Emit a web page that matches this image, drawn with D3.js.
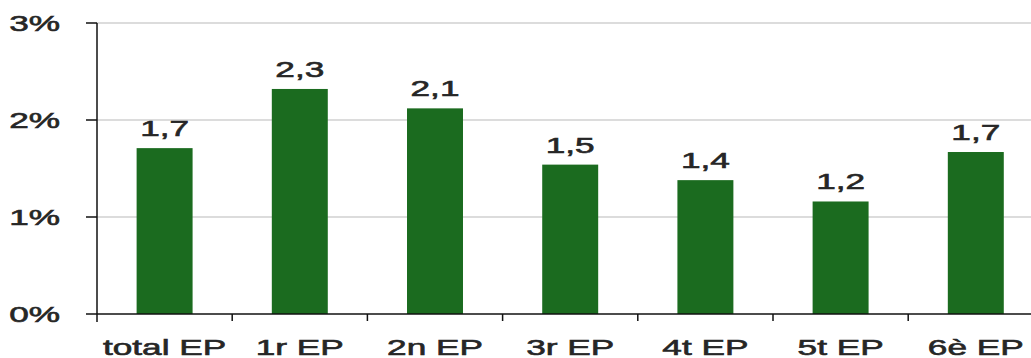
<!DOCTYPE html>
<html lang="ca">
<head>
    <meta charset="UTF-8">
    <title>EP</title>
    <script type="text/javascript" src="https://cdn.jsdelivr.net/npm/d3@7"></script>
    <style>
        body { margin: 0; background: #fff; }
        text { font-family: "Liberation Sans", Arial, sans-serif; fill: #262626; stroke: #262626; stroke-width: 0.6px; }
    </style>
</head>
<body>
<script type="text/javascript">
    let width = 1031, height = 358;

    // dades
    let categories = ['total EP', '1r EP', '2n EP', '3r EP', '4t EP', '5t EP', '6è EP'];
    let values = [1.71, 2.32, 2.12, 1.54, 1.38, 1.16, 1.67];
    let valueLabels = ['1,7', '2,3', '2,1', '1,5', '1,4', '1,2', '1,7'];
    let yTicks = [0, 1, 2, 3];
    let yTickLabels = ['0%', '1%', '2%', '3%'];

    let plotLeft = 97, plotTop = 23, plotBottom = 314;
    let sx = 1.6; // el text surt estirat en horitzontal

    let svg = d3.select('body').append('svg')
        .attr('width', width)
        .attr('height', height);

    let x = d3.scaleBand()
        .domain(categories)
        .range([plotLeft, plotLeft + 7 * 135.2])
        .paddingInner(0.586)
        .paddingOuter(0.293);

    let y = d3.scaleLinear()
        .domain([0, 3])
        .range([plotBottom, plotTop]);

    // línies de graella
    svg.append('g')
        .selectAll('line')
        .data(yTicks.filter(d => d > 0))
        .enter()
        .append('line')
        .attr('x1', plotLeft)
        .attr('x2', width)
        .attr('y1', d => y(d))
        .attr('y2', d => y(d))
        .attr('stroke', '#d0d0d0')
        .attr('stroke-width', 1.5);

    // barres
    svg.append('g')
        .selectAll('rect')
        .data(values)
        .enter()
        .append('rect')
        .attr('x', (d, i) => x(categories[i]))
        .attr('y', d => y(d))
        .attr('width', x.bandwidth())
        .attr('height', d => y(0) - y(d))
        .attr('fill', '#1b6b1f');

    // etiquetes de valor
    svg.append('g')
        .selectAll('text')
        .data(values)
        .enter()
        .append('text')
        .attr('transform', (d, i) => 'translate(' + (x(categories[i]) + x.bandwidth() / 2) + ',' + (y(d) - 12) + ') scale(' + sx + ',1)')
        .attr('text-anchor', 'middle')
        .style('font-size', '22px')
        .text((d, i) => valueLabels[i]);

    // eixos
    let step = x.step();
    let sep = d3.range(1, categories.length).map(i => plotLeft + i * step);

    svg.append('line')
        .attr('x1', plotLeft).attr('x2', width)
        .attr('y1', plotBottom).attr('y2', plotBottom)
        .attr('stroke', '#111').attr('stroke-width', 1.5);
    svg.append('line')
        .attr('x1', plotLeft).attr('x2', plotLeft)
        .attr('y1', plotTop).attr('y2', plotBottom + 8)
        .attr('stroke', '#111').attr('stroke-width', 1.5);

    svg.append('g')
        .selectAll('line')
        .data(sep)
        .enter()
        .append('line')
        .attr('x1', d => d).attr('x2', d => d)
        .attr('y1', plotBottom).attr('y2', plotBottom + 7)
        .attr('stroke', '#111').attr('stroke-width', 1.5);

    svg.append('g')
        .selectAll('line')
        .data(yTicks)
        .enter()
        .append('line')
        .attr('x1', plotLeft - 11).attr('x2', plotLeft)
        .attr('y1', d => y(d)).attr('y2', d => y(d))
        .attr('stroke', '#111').attr('stroke-width', 1.5);

    svg.append('g')
        .selectAll('text')
        .data(yTicks)
        .enter()
        .append('text')
        .attr('transform', d => 'translate(60,' + (y(d) + 8) + ') scale(' + sx + ',1)')
        .attr('text-anchor', 'end')
        .style('font-size', '22px')
        .text((d, i) => yTickLabels[i]);

    svg.append('g')
        .selectAll('text')
        .data(categories)
        .enter()
        .append('text')
        .attr('transform', d => 'translate(' + (x(d) + x.bandwidth() / 2) + ',355) scale(' + sx + ',1)')
        .attr('text-anchor', 'middle')
        .style('font-size', '22px')
        .text(d => d);
</script>
</body>
</html>
